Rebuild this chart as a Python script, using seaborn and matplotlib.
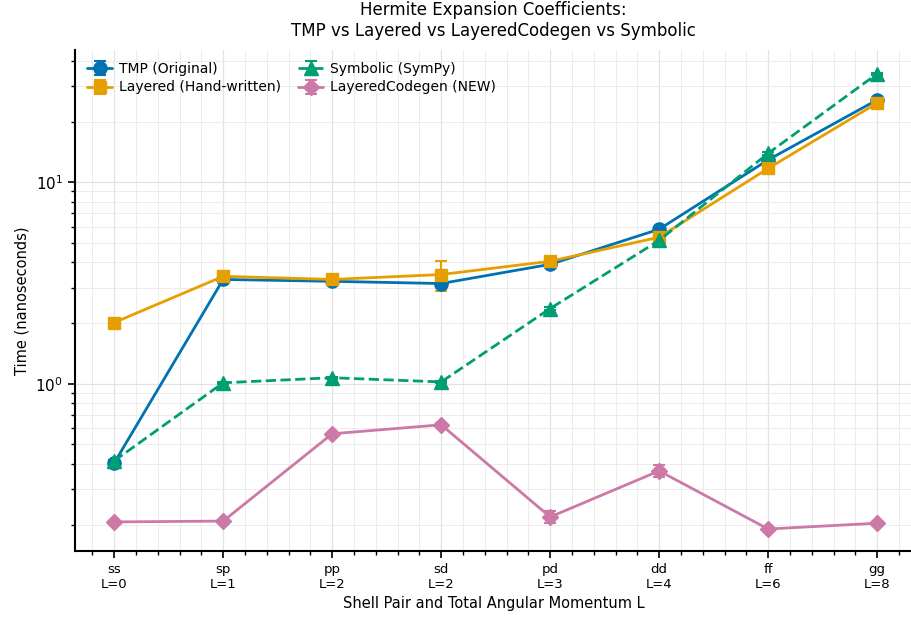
import numpy as np
import matplotlib
matplotlib.use("Agg")
import matplotlib.pyplot as plt
from matplotlib.ticker import MultipleLocator, LogLocator, NullFormatter
import seaborn as sns

# data (nanoseconds)
shells = ['ss', 'sp', 'pp', 'sd', 'pd', 'dd', 'ff', 'gg']
L_vals = [0, 1, 2, 2, 3, 4, 6, 8]
tick_labels = [f"{s}\nL={l}" for s, l in zip(shells, L_vals)]

tmp_time = [0.404, 3.29, 3.22, 3.14, 3.91, 5.84, 12.9, 25.6]
tmp_err = [0.01, 0.03, 0.03, 0.08, 0.05, 0.1, 0.2, 0.3]
layered_time = [2.01, 3.41, 3.29, 3.48, 4.05, 5.33, 11.7, 24.7]
layered_err = [0.02, 0.03, 0.03, 0.6, 0.05, 0.1, 0.2, 0.3]
symbolic_time = [0.414, 1.01, 1.07, 1.02, 2.36, 5.14, 13.9, 34.5]
symbolic_err = [0.005, 0.01, 0.01, 0.01, 0.03, 0.05, 0.2, 0.4]
codegen_time = [0.206, 0.208, 0.564, 0.625, 0.218, 0.369, 0.190, 0.203]
codegen_err = [0.003, 0.003, 0.008, 0.01, 0.015, 0.025, 0.003, 0.003]

sns.set_theme(style="ticks")
plt.rcParams['font.family'] = ['DejaVu Sans']
plt.rcParams['text.color'] = 'black'
plt.rcParams['axes.labelcolor'] = 'black'
plt.rcParams['xtick.color'] = 'black'
plt.rcParams['ytick.color'] = 'black'
pal = sns.color_palette(["#0072B2", "#E69F00", "#009E73", "#CC79A7"])

fig = plt.figure(figsize=(9.12, 6.22), dpi=100)
ax = fig.add_axes([0.0822, 0.114, 0.9178, 0.806])

x = np.arange(len(shells))
series = [
    ("TMP (Original)", tmp_time, tmp_err, pal[0], 'o', 9.5, '-'),
    ("Layered (Hand-written)", layered_time, layered_err, pal[1], 's', 9, '-'),
    ("Symbolic (SymPy)", symbolic_time, symbolic_err, pal[2], '^', 9.5, '--'),
    ("LayeredCodegen (NEW)", codegen_time, codegen_err, pal[3], 'D', 8.5, '-'),
]
for name, y, e, c, m, ms, ls in series:
    ax.errorbar(x, y, yerr=e, color=c, marker=m, markersize=ms, linestyle=ls,
                linewidth=2, capsize=4, capthick=1.5, elinewidth=1.5, label=name)

ax.set_yscale('log')
ax.set_ylim(0.1476, 45.4)
ax.set_xlim(-0.36, 7.32)
ax.set_xticks(x)
ax.set_xticklabels(tick_labels, fontsize=9.5)
ax.xaxis.set_minor_locator(MultipleLocator(0.2))
ax.yaxis.set_major_locator(LogLocator(base=10))
ax.yaxis.set_minor_locator(LogLocator(base=10, subs=np.arange(2, 10)))
ax.yaxis.set_minor_formatter(NullFormatter())
ax.tick_params(axis='y', labelsize=11)
ax.tick_params(which='major', length=5, width=1.2)
ax.tick_params(which='minor', length=3, width=1)

ax.grid(True, which='major', color='#e2e2e2', linewidth=0.9)
ax.grid(True, which='minor', color='#ececec', linewidth=0.7)
ax.set_axisbelow(True)
sns.despine(ax=ax)
for sp in ['left', 'bottom']:
    ax.spines[sp].set_linewidth(1.5)
    ax.spines[sp].set_color('black')

ax.set_xlabel("Shell Pair and Total Angular Momentum L", fontsize=10.5)
ax.set_ylabel("Time (nanoseconds)", fontsize=10.5)
ax.set_title("Hermite Expansion Coefficients:\nTMP vs Layered vs LayeredCodegen vs Symbolic",
             fontsize=12, pad=10)

ax.legend(loc='upper left', ncol=2, frameon=False, fontsize=10,
          handlelength=1.8, handletextpad=0.5, columnspacing=1.2,
          borderaxespad=0.5, labelspacing=0.3)

fig.savefig("out.png", dpi=100)
